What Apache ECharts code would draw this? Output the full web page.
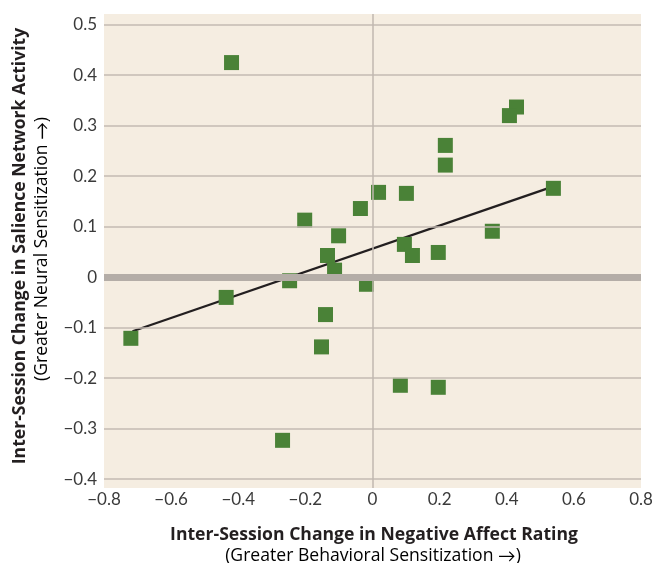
<!DOCTYPE html>
<html>
<head>
<meta charset="utf-8">
<script src="https://cdn.jsdelivr.net/npm/echarts@6/dist/echarts.min.js"></script>
<style>
  html, body { margin: 0; padding: 0; background: #ffffff; }
  #chart { width: 658px; height: 563px; }
</style>
</head>
<body>
<div id="chart"></div>
<script>
// Per-participant inter-session changes
const negAffectChange = [
  -0.42, -0.202, -0.036, -0.101, -0.134, -0.113, 0.018,
  0.429, 0.408, 0.217, 0.217, 0.101, 0.539, 0.357, 0.095, 0.119, 0.196,
  -0.247, -0.436, -0.720, -0.018, -0.140, -0.152, -0.268,
  0.083, 0.196
];
const salienceChange = [
  0.425, 0.113, 0.136, 0.082, 0.043, 0.014, 0.168,
  0.337, 0.320, 0.261, 0.222, 0.166, 0.176, 0.091, 0.065, 0.043, 0.049,
  -0.007, -0.040, -0.121, -0.014, -0.074, -0.138, -0.323,
  -0.214, -0.218
];

// Fitted line endpoints
const trendX = [-0.715, 0.535];
const trendY = [-0.107, 0.179];

// Tick values
const xTicks = [-0.8, -0.6, -0.4, -0.2, 0, 0.2, 0.4, 0.6, 0.8];
const yTicks = [-0.4, -0.3, -0.2, -0.1, 0, 0.1, 0.2, 0.3, 0.4, 0.5];

const TICK_FONT = 'Lato';
const TITLE_FONT = '"Open Sans"';
const fmt = v => {
  const r = Math.round(v * 10) / 10;
  return r === 0 ? '0' : String(r).replace('-', '\u2212');
};

// Axis title: bold main line, lighter note line whose arrow uses a font with a full-size glyph
function titleLines(main, note, x1, y1, x2, y2, rotation) {
  return [
    {
      type: 'text', x: x1, y: y1, rotation: rotation,
      style: {
        text: main,
        font: 'bold 17.6px ' + TITLE_FONT, fill: '#231f20',
        textAlign: 'center', textVerticalAlign: 'middle'
      }
    },
    {
      type: 'text', x: x2, y: y2, rotation: rotation,
      style: {
        text: '{t|' + note + ' }{a|\u2192}{t|)}',
        textAlign: 'center', textVerticalAlign: 'middle',
        rich: {
          t: { fontFamily: 'Open Sans', fontSize: 17.6, color: '#3a3a3a' },
          a: { fontFamily: 'Lato', fontSize: 17.6, color: '#3a3a3a' }
        }
      }
    }
  ];
}

const chart = echarts.init(document.getElementById('chart'), null, { renderer: 'canvas' });

const points = negAffectChange.map((x, i) => [x, salienceChange[i]]);
const trend = trendX.map((x, i) => [x, trendY[i]]);

chart.setOption({
  animation: false,
  backgroundColor: '#ffffff',
  grid: {
    left: 104, right: 17, top: 14, bottom: 75,
    show: true, backgroundColor: '#f5ede1', borderWidth: 0
  },
  xAxis: {
    type: 'value',
    min: -0.8, max: 0.8, interval: 0.2,
    axisLine: { show: false },
    axisTick: { show: false },
    splitLine: { show: false },
    axisLabel: {
      customValues: xTicks,
      formatter: fmt,
      margin: 3,
      fontFamily: TICK_FONT, fontSize: 17, color: '#3a3a3a'
    }
  },
  yAxis: {
    type: 'value',
    min: -0.4174, max: 0.5212,
    axisLine: { show: false },
    axisTick: { show: false },
    splitLine: { show: false },
    axisLabel: {
      customValues: yTicks,
      formatter: fmt,
      margin: 7,
      fontFamily: TICK_FONT, fontSize: 17, color: '#3a3a3a'
    }
  },
  series: [
    {
      name: 'gridlines',
      type: 'scatter',
      data: [],
      z: 1,
      silent: true,
      markLine: {
        silent: true,
        symbol: 'none',
        label: { show: false },
        lineStyle: { type: 'solid', color: '#c3bab2', width: 1.5, opacity: 1 },
        data: yTicks.filter(v => v !== 0).map(v => ({ yAxis: v }))
          .concat([{ xAxis: 0, lineStyle: { color: '#c0b7af', width: 1.5 } }])
      }
    },
    {
      name: 'zero',
      type: 'scatter',
      data: [],
      z: 2,
      silent: true,
      markLine: {
        silent: true,
        symbol: 'none',
        label: { show: false },
        lineStyle: { type: 'solid', color: '#b4ada7', width: 7, opacity: 1 },
        data: [{ yAxis: 0 }]
      }
    },
    {
      name: 'fit',
      type: 'line',
      data: trend,
      z: 3,
      symbol: 'none',
      silent: true,
      lineStyle: { color: '#231f20', width: 2.3 }
    },
    {
      name: 'participants',
      type: 'scatter',
      data: points,
      z: 4,
      symbol: 'rect',
      symbolSize: 15,
      itemStyle: { color: '#4a8237', opacity: 1 }
    }
  ],
  graphic: [].concat(
    titleLines('Inter-Session Change in Negative Affect Rating',
      '(Greater Behavioral Sensitization', 374, 535, 373, 556, 0),
    titleLines('Inter-Session Change in Salience Network Activity',
      '(Greater Neural Sensitization', 20, 246, 42, 249, Math.PI / 2)
  )
});
</script>
</body>
</html>
